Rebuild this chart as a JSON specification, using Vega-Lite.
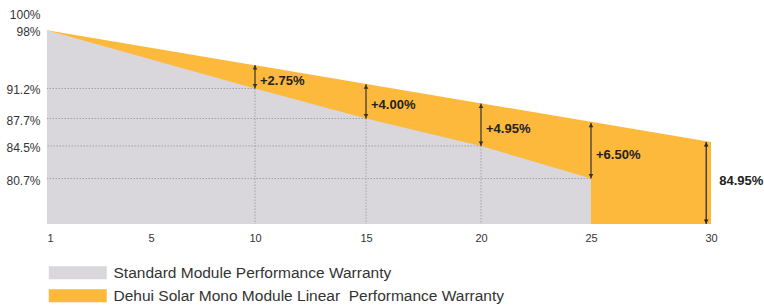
{
  "$schema": "https://vega.github.io/schema/vega-lite/v6.json",
  "width": 664,
  "height": 211,
  "autosize": "none",
  "padding": {"left": 47, "top": 13, "right": 53, "bottom": 81},
  "background": "white",
  "config": {
    "view": {"stroke": null},
    "font": "Liberation Sans",
    "axis": {"grid": false, "ticks": false, "domain": false, "labelFont": "Liberation Sans", "labelColor": "#333333"},
    "axisX": {"labelFontSize": 11, "labelPadding": 8, "labelFlush": false},
    "axisY": {"labelFontSize": 12, "labelPadding": 7, "labelOffset": 1.5}
  },
  "datasets": {
    "dehui": [
      {"series": "Dehui Solar Mono Module Linear\u00a0 Performance Warranty", "year": 1, "value": 98},
      {"series": "Dehui Solar Mono Module Linear\u00a0 Performance Warranty", "year": 30, "value": 84.95}
    ],
    "standard": [
      {"series": "Standard Module Performance Warranty", "year": 1, "value": 98},
      {"series": "Standard Module Performance Warranty", "year": 10, "value": 91.2},
      {"series": "Standard Module Performance Warranty", "year": 15, "value": 87.7},
      {"series": "Standard Module Performance Warranty", "year": 20, "value": 84.5},
      {"series": "Standard Module Performance Warranty", "year": 25, "value": 80.7}
    ],
    "grid": [
      {"year": 10, "value": 91.2},
      {"year": 15, "value": 87.7},
      {"year": 20, "value": 84.5},
      {"year": 25, "value": 80.7}
    ],
    "gaps": [
      {"year": 10, "low": 91.2, "high": 93.95, "label": "+2.75%"},
      {"year": 15, "low": 87.7, "high": 91.7, "label": "+4.00%"},
      {"year": 20, "low": 84.5, "high": 89.45, "label": "+4.95%"},
      {"year": 25, "low": 80.7, "high": 87.2, "label": "+6.50%"}
    ],
    "total": [
      {"year": 29.8, "low": 75.4, "high": 84.95, "label": "84.95%"}
    ]
  },
  "layer": [
    {
      "data": {"name": "dehui"},
      "mark": {"type": "area", "opacity": 1},
      "encoding": {
        "x": {"field": "year", "type": "quantitative", "title": null,
              "scale": {"domain": [1, 5, 10, 15, 20, 25, 30], "range": [0, 104, 208, 319, 434, 544, 664], "nice": false, "zero": false},
              "axis": {"values": [1, 5, 10, 15, 20, 25, 30],
                       "labelAlign": {"condition": {"test": "datum.value == 1", "value": "left"}, "value": "center"}}},
        "y": {"field": "value", "type": "quantitative", "title": null,
              "scale": {"domain": [75.4, 100], "nice": false, "zero": false},
              "axis": {"values": [80.7, 84.5, 87.7, 91.2, 98, 100], "labelExpr": "datum.value + '%'"}},
        "y2": {"datum": 75.4},
        "color": {"field": "series", "type": "nominal",
                  "scale": {"domain": ["Standard Module Performance Warranty", "Dehui Solar Mono Module Linear\u00a0 Performance Warranty"],
                            "range": ["#d9d7dc", "#fdb93c"]},
                  "legend": {"title": null, "orient": "none", "legendX": 23, "legendY": 252, "direction": "vertical",
                             "symbolType": "M-4.46,-1H4.46V1H-4.46Z", "symbolSize": 169, "symbolStrokeWidth": 0,
                             "symbolOpacity": 1,
                             "labelFont": "Liberation Sans", "labelFontSize": 15.5, "labelColor": "#333333",
                             "labelOffset": 28, "rowPadding": 6, "labelLimit": 600}}
      }
    },
    {
      "data": {"name": "standard"},
      "mark": {"type": "area", "opacity": 1},
      "encoding": {
        "x": {"field": "year", "type": "quantitative", "title": null},
        "y": {"field": "value", "type": "quantitative", "title": null},
        "y2": {"datum": 75.4},
        "color": {"field": "series", "type": "nominal"}
      }
    },
    {
      "data": {"name": "grid"},
      "mark": {"type": "rule", "color": "#a3a3a3", "strokeWidth": 1, "strokeDash": [1.5, 1.5]},
      "encoding": {
        "x": {"field": "year", "type": "quantitative", "title": null},
        "x2": {"datum": 1},
        "y": {"field": "value", "type": "quantitative", "title": null}
      }
    },
    {
      "data": {"name": "grid"},
      "transform": [{"filter": "datum.year < 25"}],
      "mark": {"type": "rule", "color": "#a3a3a3", "strokeWidth": 1, "strokeDash": [1.5, 1.5]},
      "encoding": {
        "x": {"field": "year", "type": "quantitative", "title": null},
        "y": {"field": "value", "type": "quantitative", "title": null},
        "y2": {"datum": 75.4}
      }
    },
    {
      "data": {"name": "gaps"},
      "layer": [
        {"mark": {"type": "rule", "color": "#333333", "strokeWidth": 1.2},
         "encoding": {"x": {"field": "year", "type": "quantitative", "title": null},
                      "y": {"field": "low", "type": "quantitative", "title": null},
                      "y2": {"field": "high"}}},
        {"mark": {"type": "point", "shape": "triangle-up", "filled": true, "size": 22, "color": "#333333", "opacity": 1, "yOffset": 2.5},
         "encoding": {"x": {"field": "year", "type": "quantitative", "title": null},
                      "y": {"field": "high", "type": "quantitative", "title": null}}},
        {"mark": {"type": "point", "shape": "triangle-down", "filled": true, "size": 22, "color": "#333333", "opacity": 1, "yOffset": -2.5},
         "encoding": {"x": {"field": "year", "type": "quantitative", "title": null},
                      "y": {"field": "low", "type": "quantitative", "title": null}}},
        {"transform": [{"fold": ["low", "high"], "as": ["end", "v"]},
                       {"aggregate": [{"op": "mean", "field": "v", "as": "mid"}], "groupby": ["year", "label"]}],
         "mark": {"type": "text", "align": "left", "baseline": "middle", "dx": 5, "dy": 4, "fontSize": 13, "fontWeight": "bold", "color": "#222222", "font": "Liberation Sans"},
         "encoding": {"x": {"field": "year", "type": "quantitative", "title": null},
                      "y": {"field": "mid", "type": "quantitative", "title": null},
                      "text": {"field": "label"}}}
      ]
    },
    {
      "data": {"name": "total"},
      "layer": [
        {"mark": {"type": "rule", "color": "#222222", "strokeWidth": 1.2},
         "encoding": {"x": {"field": "year", "type": "quantitative", "title": null},
                      "y": {"field": "low", "type": "quantitative", "title": null},
                      "y2": {"field": "high"}}},
        {"mark": {"type": "point", "shape": "triangle-up", "filled": true, "size": 22, "color": "#222222", "opacity": 1, "yOffset": 2.5},
         "encoding": {"x": {"field": "year", "type": "quantitative", "title": null},
                      "y": {"field": "high", "type": "quantitative", "title": null}}},
        {"mark": {"type": "point", "shape": "triangle-down", "filled": true, "size": 22, "color": "#222222", "opacity": 1, "yOffset": -2.5},
         "encoding": {"x": {"field": "year", "type": "quantitative", "title": null},
                      "y": {"field": "low", "type": "quantitative", "title": null}}},
        {"transform": [{"fold": ["low", "high"], "as": ["end", "v"]},
                       {"aggregate": [{"op": "mean", "field": "v", "as": "mid"}], "groupby": ["year", "label"]}],
         "mark": {"type": "text", "align": "left", "baseline": "middle", "dx": 13, "dy": -2, "fontSize": 13, "fontWeight": "bold", "color": "#222222", "font": "Liberation Sans"},
         "encoding": {"x": {"field": "year", "type": "quantitative", "title": null},
                      "y": {"field": "mid", "type": "quantitative", "title": null},
                      "text": {"field": "label"}}}
      ]
    }
  ]
}
